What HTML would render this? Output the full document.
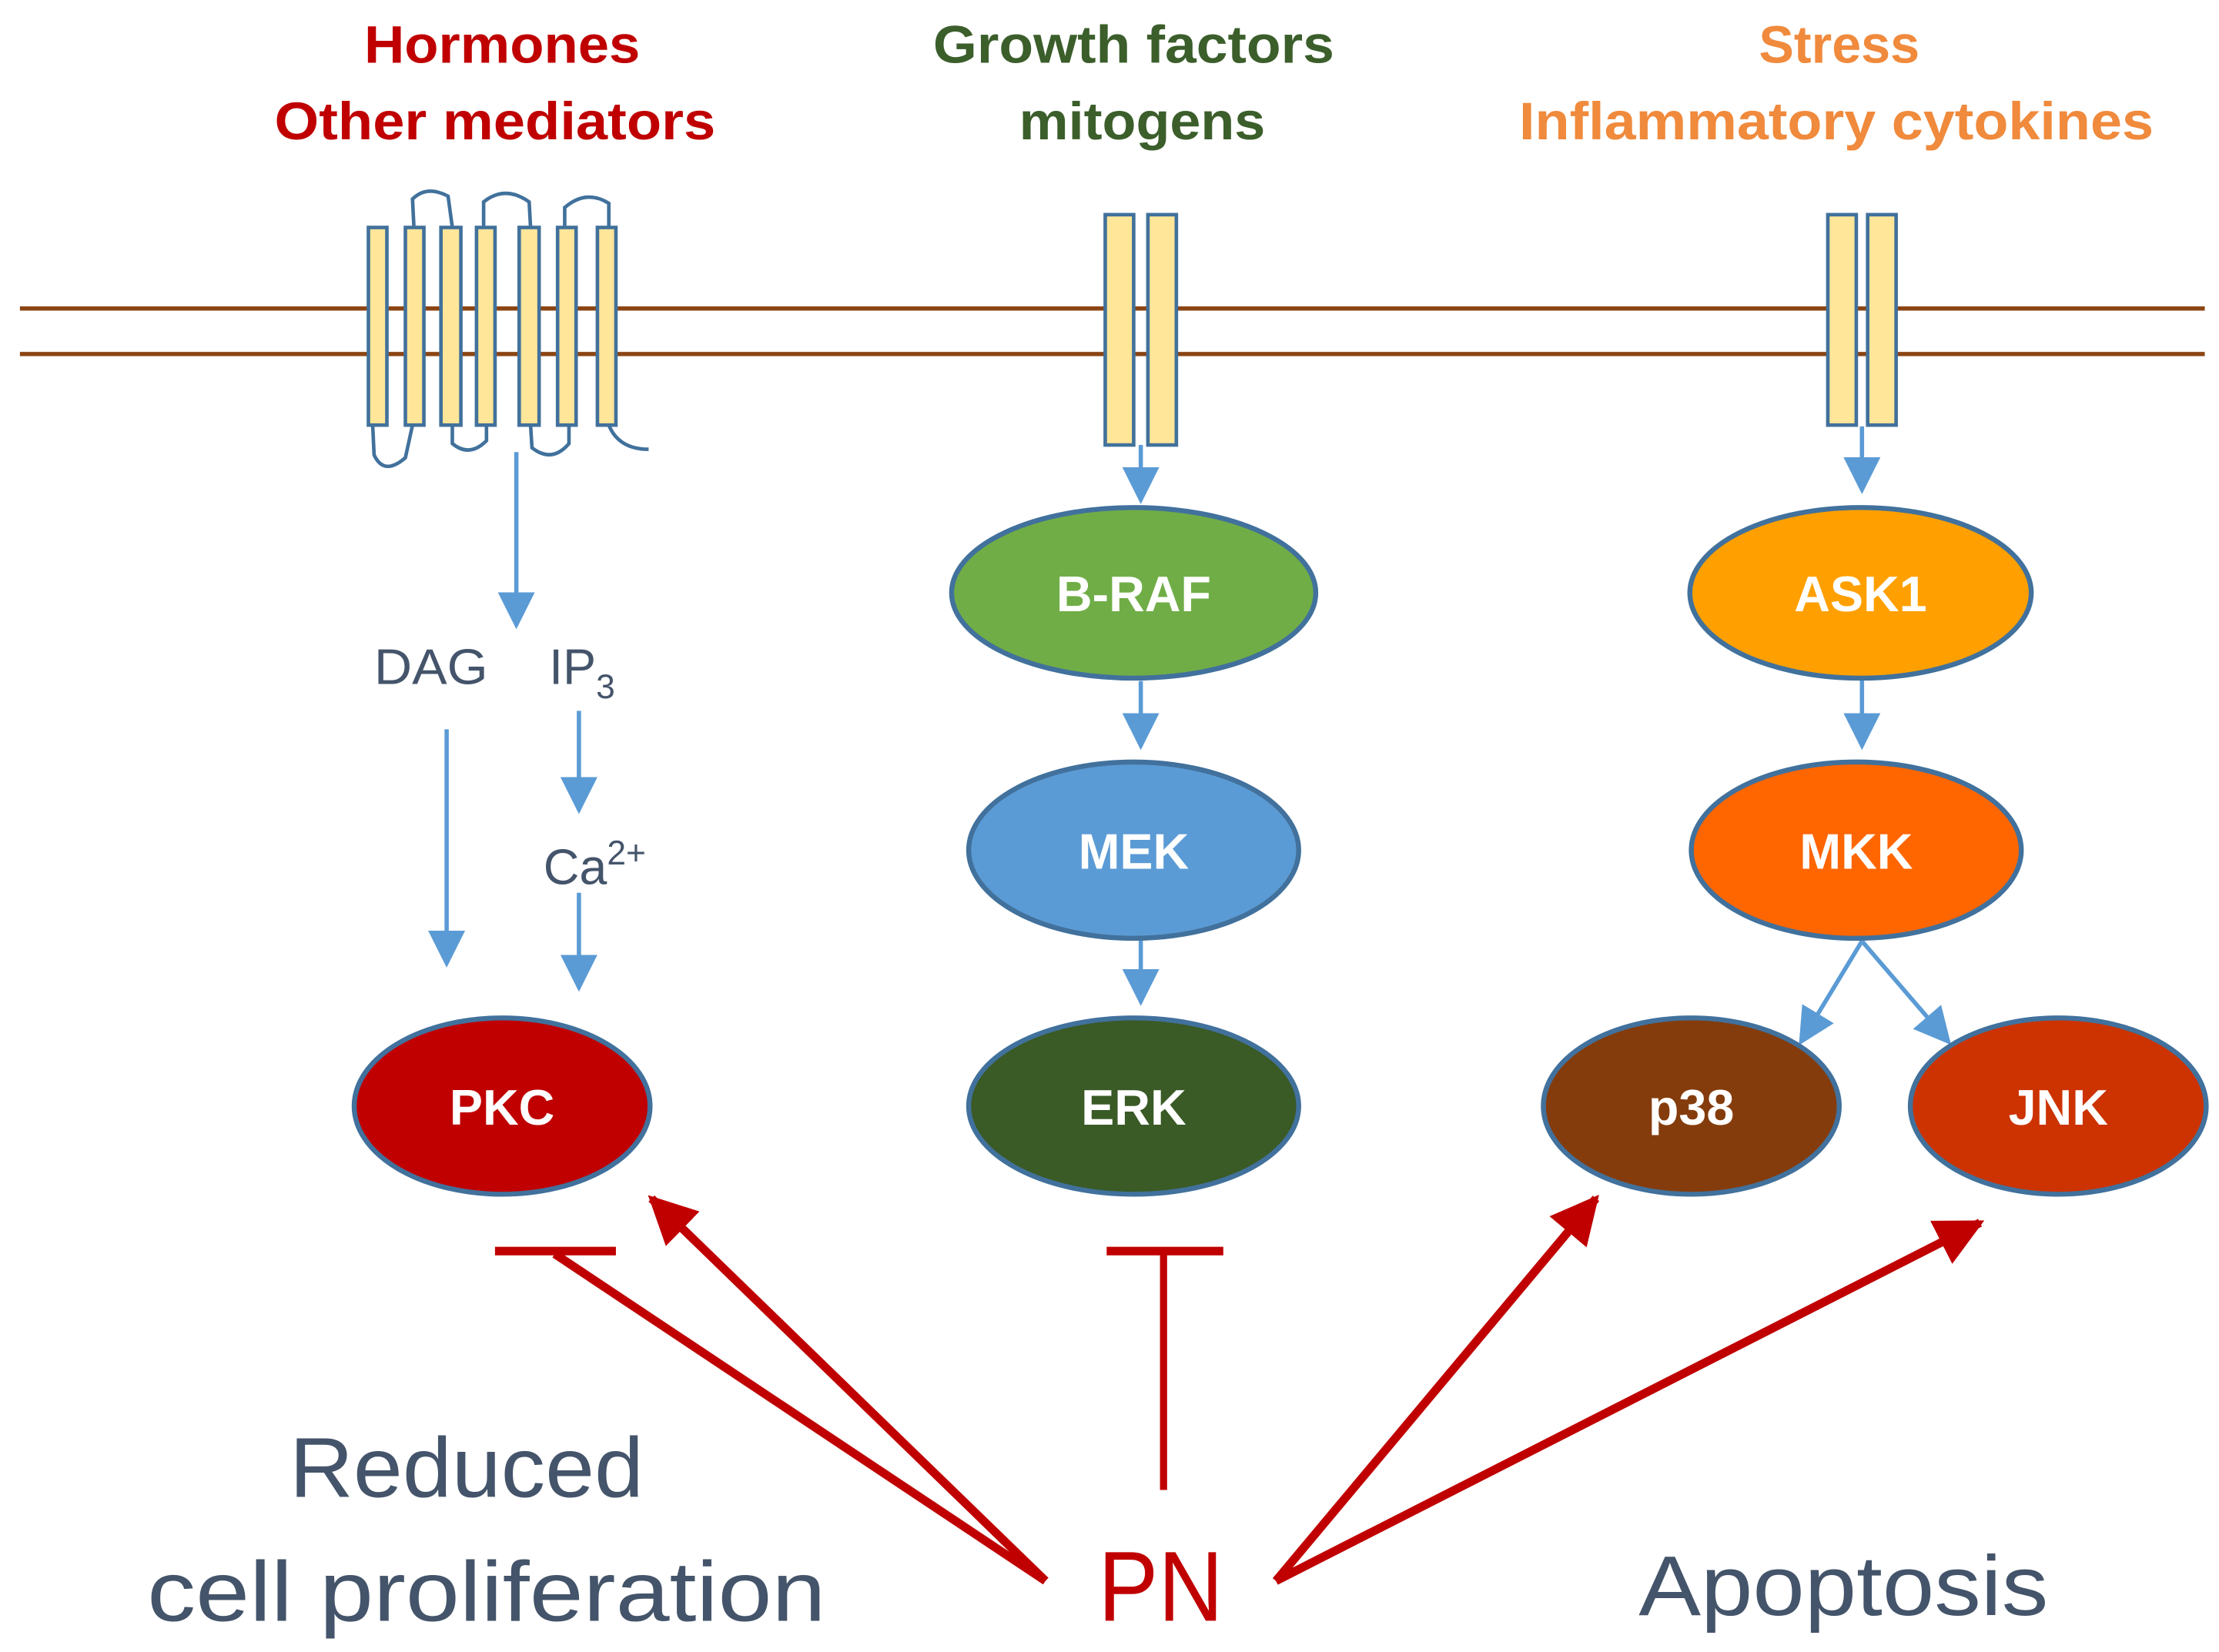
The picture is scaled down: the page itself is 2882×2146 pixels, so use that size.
<!DOCTYPE html>
<html><head><meta charset="utf-8"><style>
html,body{margin:0;padding:0;background:#fff;}
svg{display:block;}
text{font-family:"Liberation Sans",sans-serif;}
.t{font-weight:bold;font-size:37px;text-anchor:middle;}
.n{font-weight:bold;font-size:35px;fill:#fff;text-anchor:middle;}
.g{font-size:60px;fill:#44546A;text-anchor:middle;}
</style></head><body>
<svg width="2882" height="2146" viewBox="0 0 1560 1162" preserveAspectRatio="none" xmlns="http://www.w3.org/2000/svg">
<defs>
<marker id="bb" viewBox="0 0 10 10" refX="9" refY="5" markerWidth="26" markerHeight="26" orient="auto" markerUnits="userSpaceOnUse"><path d="M0,0 L10,5 L0,10 z" fill="#5B9BD5"/></marker>
<marker id="rr" viewBox="0 0 10 10" refX="9" refY="5" markerWidth="34" markerHeight="34" orient="auto" markerUnits="userSpaceOnUse"><path d="M0,0 L10,5 L0,10 z" fill="#C00000"/></marker>
</defs>
<!-- titles -->
<text class="t" x="353" y="44" fill="#C00000" textLength="194" lengthAdjust="spacingAndGlyphs">Hormones</text>
<text class="t" x="348" y="98" fill="#C00000" textLength="310" lengthAdjust="spacingAndGlyphs">Other mediators</text>
<text class="t" x="797" y="44" fill="#3B5E2B" textLength="282" lengthAdjust="spacingAndGlyphs">Growth factors</text>
<text class="t" x="803" y="98" fill="#3B5E2B" textLength="173" lengthAdjust="spacingAndGlyphs">mitogens</text>
<text class="t" x="1293" y="44" fill="#F08A3C" textLength="113" lengthAdjust="spacingAndGlyphs">Stress</text>
<text class="t" x="1291" y="98" fill="#F08A3C" textLength="446" lengthAdjust="spacingAndGlyphs">Inflammatory cytokines</text>
<!-- membrane -->
<line x1="14" y1="217" x2="1550" y2="217" stroke="#8B4513" stroke-width="3"/>
<line x1="14" y1="249" x2="1550" y2="249" stroke="#8B4513" stroke-width="3"/>
<!-- GPCR loops -->
<g fill="none" stroke="#41719C" stroke-width="2.5">
<path d="M291,160 L290,140 Q300,130 315,138 L318,160"/>
<path d="M340,160 L340,142 Q355,130 372,142 L373,160"/>
<path d="M397,160 L397,146 Q412,133 428,143 L428,160"/>
<path d="M262,299 L263,320 Q270,335 285,322 L290,299"/>
<path d="M318,299 L318,312 Q330,322 342,310 L342,299"/>
<path d="M373,299 L374,315 Q388,326 400,312 L400,299"/>
<path d="M428,299 Q435,316 456,316"/>
</g>
<g fill="#FFE699" stroke="#41719C" stroke-width="2.5">
<rect x="259" y="160" width="13" height="139"/>
<rect x="285" y="160" width="13" height="139"/>
<rect x="310" y="160" width="14" height="139"/>
<rect x="335" y="160" width="13" height="139"/>
<rect x="365" y="160" width="14" height="139"/>
<rect x="392" y="160" width="13" height="139"/>
<rect x="420" y="160" width="13" height="139"/>
<rect x="777" y="151" width="20" height="162"/>
<rect x="807" y="151" width="20" height="162"/>
<rect x="1285" y="151" width="20" height="148"/>
<rect x="1313" y="151" width="20" height="148"/>
</g>
<!-- blue arrows -->
<g stroke="#5B9BD5" stroke-width="3" fill="none" marker-end="url(#bb)">
<line x1="363" y1="318" x2="363" y2="440"/>
<line x1="314" y1="513" x2="314" y2="678"/>
<line x1="407" y1="500" x2="407" y2="570"/>
<line x1="407" y1="628" x2="407" y2="695"/>
<line x1="802" y1="313" x2="802" y2="352"/>
<line x1="802" y1="479" x2="802" y2="525"/>
<line x1="802" y1="660" x2="802" y2="705"/>
<line x1="1309" y1="300" x2="1309" y2="345"/>
<line x1="1309" y1="477" x2="1309" y2="525"/>
<line x1="1309" y1="662" x2="1266" y2="733"/>
<line x1="1309" y1="662" x2="1370" y2="733"/>
</g>
<text x="303" y="481" font-size="35" fill="#44546A" text-anchor="middle" textLength="80" lengthAdjust="spacingAndGlyphs">DAG</text>
<text x="386" y="481" font-size="35" fill="#44546A">IP<tspan font-size="24" dy="10">3</tspan></text>
<text x="382" y="622" font-size="35" fill="#44546A">Ca<tspan font-size="24" dy="-14">2+</tspan></text>
<!-- nodes -->
<g stroke="#41719C" stroke-width="3.5">
<ellipse cx="797" cy="417" rx="128" ry="60" fill="#70AD47"/>
<ellipse cx="797" cy="598" rx="116" ry="62" fill="#5B9BD5"/>
<ellipse cx="797" cy="778" rx="116" ry="62" fill="#3A5A26"/>
<ellipse cx="1308" cy="417" rx="120" ry="60" fill="#FFA000"/>
<ellipse cx="1305" cy="598" rx="116" ry="62" fill="#FF6600"/>
<ellipse cx="1189" cy="778" rx="104" ry="62" fill="#843C0C"/>
<ellipse cx="1447" cy="778" rx="104" ry="62" fill="#CC3300"/>
<ellipse cx="353" cy="778" rx="104" ry="62" fill="#C00000"/>
</g>
<text class="n" x="797" y="430">B-RAF</text>
<text class="n" x="797" y="611">MEK</text>
<text class="n" x="797" y="791">ERK</text>
<text class="n" x="1308" y="430">ASK1</text>
<text class="n" x="1305" y="611">MKK</text>
<text class="n" x="1189" y="791">p38</text>
<text class="n" x="1447" y="791">JNK</text>
<text class="n" x="353" y="791">PKC</text>
<!-- red -->
<g stroke="#C00000" stroke-width="6" fill="none">
<line x1="348" y1="880" x2="433" y2="880"/>
<line x1="390" y1="882" x2="735" y2="1112"/>
<line x1="735" y1="1112" x2="458" y2="843" marker-end="url(#rr)"/>
<line x1="778" y1="880" x2="860" y2="880"/>
<line x1="818" y1="880" x2="818" y2="1048" stroke-width="5"/>
<line x1="897" y1="1112" x2="1122" y2="843" marker-end="url(#rr)"/>
<line x1="897" y1="1112" x2="1392" y2="860" marker-end="url(#rr)"/>
</g>
<text class="g" x="328" y="1053" textLength="249" lengthAdjust="spacingAndGlyphs">Reduced</text>
<text class="g" x="342" y="1140" textLength="477" lengthAdjust="spacingAndGlyphs">cell proliferation</text>
<text x="816" y="1140" font-size="70" fill="#C00000" text-anchor="middle" textLength="88" lengthAdjust="spacingAndGlyphs">PN</text>
<text class="g" x="1296" y="1136" textLength="288" lengthAdjust="spacingAndGlyphs">Apoptosis</text>
</svg>
</body></html>
